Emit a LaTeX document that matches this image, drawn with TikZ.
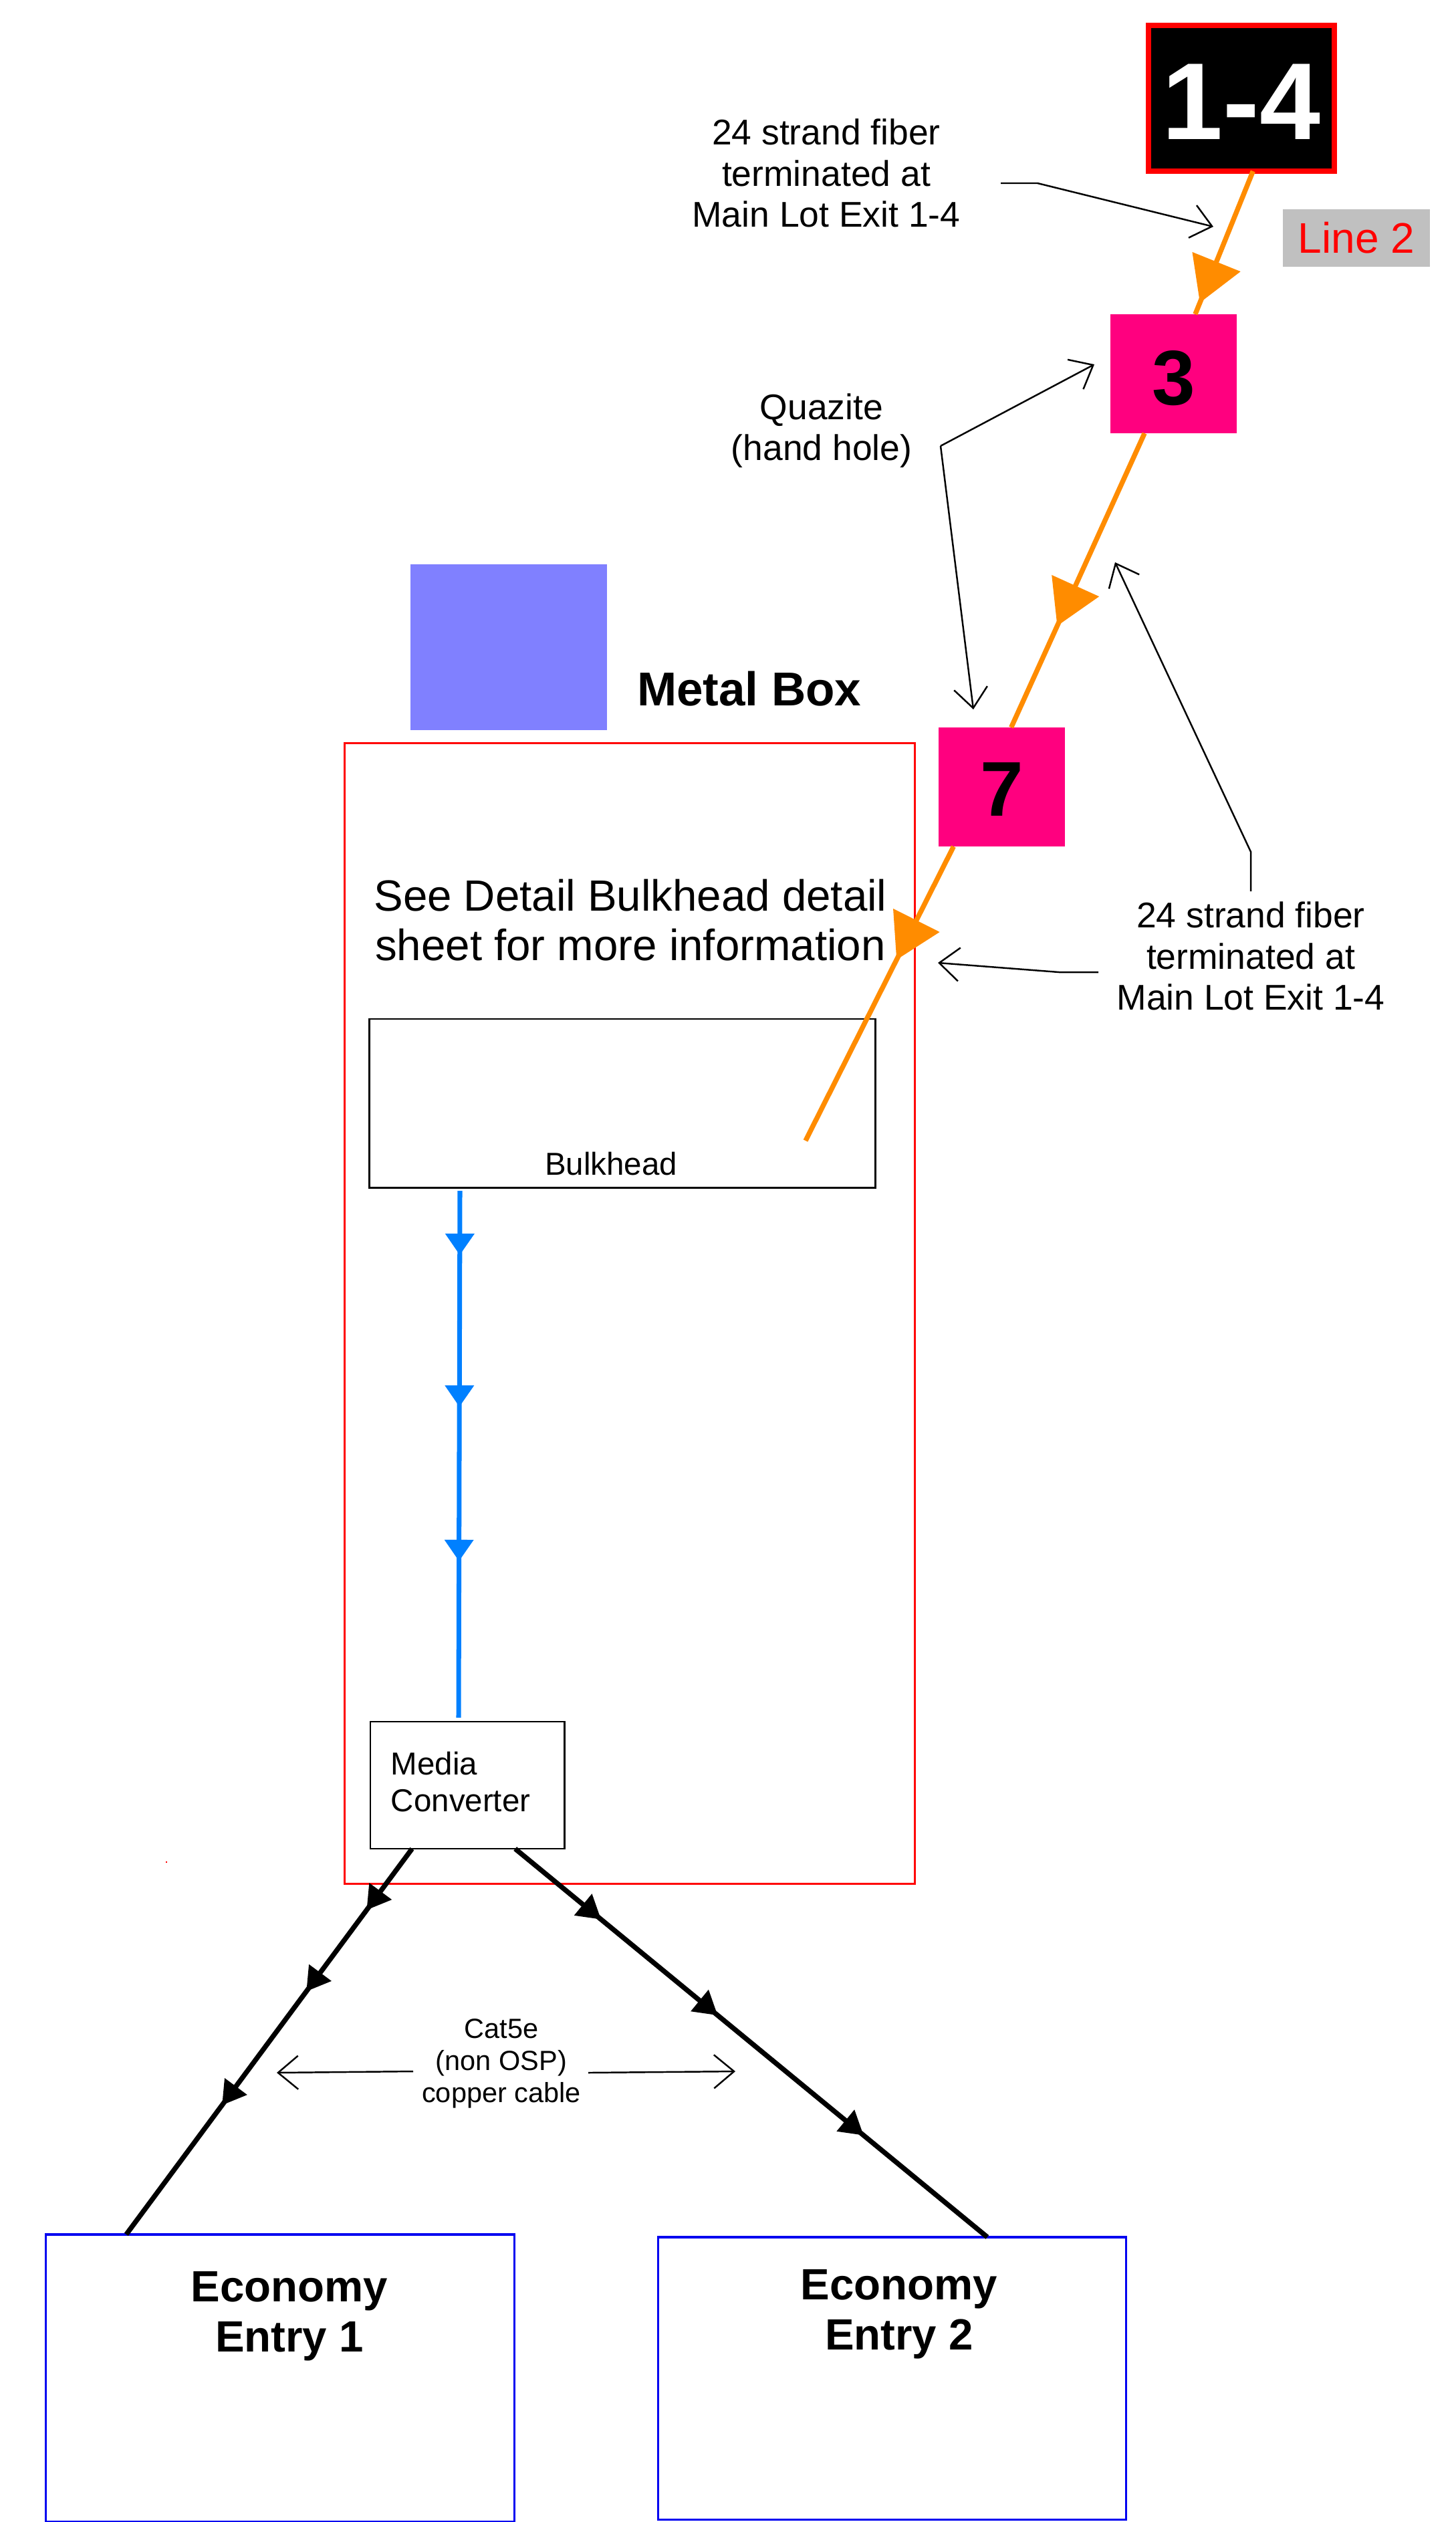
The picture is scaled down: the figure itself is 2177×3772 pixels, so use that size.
\documentclass[tikz,border=0pt]{standalone}
\usepackage{fontspec}
\setmainfont{Liberation Sans}
\usetikzlibrary{arrows.meta,decorations.markings}
\definecolor{fiberorange}{RGB}{255,140,0}
\definecolor{holepink}{RGB}{255,0,127}
\definecolor{patchblue}{RGB}{0,128,255}
\definecolor{metalblue}{RGB}{128,128,255}
\definecolor{tagback}{RGB}{192,192,192}
\definecolor{entryblue}{RGB}{0,0,240}
\begin{document}
\begin{tikzpicture}[x=0.01cm,y=-0.01cm,
  every node/.style={outer sep=0pt},
  notetext/.style={align=center,inner sep=0pt,font=\fontsize{15.2}{17.4}\selectfont},
  titletext/.style={align=center,inner sep=0pt,font=\bfseries\fontsize{18.6}{21.2}\selectfont},
  holebox/.style={fill=holepink,minimum width=1.89cm,minimum height=1.78cm,inner sep=0pt,text depth=0pt,font=\bfseries\fontsize{33}{36}\selectfont},
  entrybox/.style={draw=entryblue,line width=0.9pt,minimum width=7cm,inner sep=0pt},
  leader/.style={draw=black,line width=0.7pt,-{Straight Barb[length=0.3cm,width=0.5cm]}},
  fibertip/.style={postaction={decorate,decoration={markings,mark=at position #1 with {\arrow{Triangle[length=0.66cm,width=0.76cm]}}}}},
  patchtip/.style={postaction={decorate,decoration={markings,mark=at position #1 with {\arrow{Triangle[length=0.32cm,width=0.42cm]}}}}},
  coppertip/.style={postaction={decorate,decoration={markings,mark=at position #1 with {\arrow{Triangle[length=0.35cm,width=0.4cm]}}}}},
  fiber/.style={draw=fiberorange,line width=2.1pt},
  patch/.style={draw=patchblue,line width=2pt},
  copper/.style={draw=black,line width=2.1pt}]
\useasboundingbox (0,0) rectangle (2177,3772);
\node[draw=red,line width=0.9pt,minimum width=8.53cm,minimum height=17.05cm,inner sep=0pt] (metalbox) at (942,1964.5) {};
\node[fill=metalblue,minimum width=2.94cm,minimum height=2.48cm,inner sep=0pt] (metalsquare) at (761,968) {};
\node[anchor=west,inner sep=0pt,font=\bfseries\fontsize{20.2}{24}\selectfont] (metallabel) at (953,1030) {Metal Box};
\node[align=center,inner sep=0pt,font=\fontsize{18.6}{21}\selectfont] (seedetail) at (943,1376) {See Detail Bulkhead detail\\ sheet for more information};
\node[draw=black,line width=0.8pt,minimum width=7.56cm,minimum height=2.52cm,inner sep=0pt] (bulkhead) at (931,1650) {};
\node[inner sep=0pt,font=\fontsize{13.5}{16}\selectfont] (bulkheadlabel) at (914,1741) {Bulkhead};
\node[draw=black,line width=0.8pt,minimum width=2.9cm,minimum height=1.9cm,inner xsep=0.31cm,inner ysep=0pt,text width=2.28cm,align=left,font=\fontsize{13.5}{15.9}\selectfont] (media) at (699,2670) {Media\\ Converter\vspace{0.1cm}};
\node[draw=red,fill=black,line width=2.3pt,minimum width=2.78cm,minimum height=2.18cm,inner sep=0pt,text=white,text height=1.22cm,text depth=0pt,font=\bfseries\fontsize{46.5}{50}\selectfont] (exit) at (1857,147) {1-4};
\node[fill=tagback,minimum width=2.2cm,minimum height=0.86cm,inner sep=0pt,text=red,font=\fontsize{18.2}{20}\selectfont] (linetag) at (2029,356) {Line 2};
\node[holebox,text height=0.93cm] (holethree) at (1755.5,559) {3};
\node[holebox,text height=0.87cm] (holeseven) at (1498.5,1177) {7};
\node[entrybox,minimum height=4.29cm] (entryone) at (419,3556.5) {};
\node[entrybox,minimum height=4.22cm] (entrytwo) at (1334.5,3557) {};
\node[titletext] (entryonelabel) at (433,3464) {Economy\\ Entry 1};
\node[titletext] (entrytwolabel) at (1345,3461) {Economy\\ Entry 2};
\node[notetext] (fiberlabel) at (1236,259) {24 strand fiber\\ terminated at\hspace*{0.15cm}\\ Main Lot Exit 1-4};
\node[notetext] (quazite) at (1229,644) {Quazite\\ (hand hole)};
\node[notetext] (fiberlabeltwo) at (1871,1430) {24 strand fiber\\ terminated at\hspace*{0.15cm}\\ Main Lot Exit 1-4};
\node[align=center,inner sep=0pt,font=\fontsize{11.8}{13.6}\selectfont] (catlabel) at (750,3086) {Cat5e\\ (non OSP)\\ copper cable};
\node[fill=red,minimum size=0.02cm,inner sep=0pt] (reddot) at (249,2785) {};
\coordinate (fiberend) at (1205,1706);
\coordinate (patchtop) at (688,1781);
\coordinate (patchend) at (686,2569);
\coordinate (notea) at (1497,274);
\coordinate (noteb) at (1552,274);
\coordinate (notec) at (1815,339);
\coordinate (quazitebend) at (1407,667);
\coordinate (quazitea) at (1637,545);
\coordinate (quaziteb) at (1456,1061);
\coordinate (noted) at (1871,1333);
\coordinate (notee) at (1871,1274);
\coordinate (notef) at (1668,841);
\coordinate (noteg) at (1643,1454);
\coordinate (noteh) at (1584,1454);
\coordinate (notei) at (1403,1440);
\coordinate (cata) at (618,3098);
\coordinate (catb) at (414,3100);
\coordinate (catc) at (880,3100);
\coordinate (catd) at (1100,3098);
\draw[fiber,fibertip=.92] (exit.-81) -- (holethree.70.5);
\draw[fiber,fibertip=.655] (holethree.-116) -- (holeseven.81);
\draw[fiber,fibertip=.385] (holeseven.231.6) -- (fiberend);
\draw[patch,patchtip=.122,patchtip=.41,patchtip=.703] (patchtop) -- (patchend);
\draw[copper,coppertip=.159,coppertip=.37,coppertip=.665] (media.229) -- (entryone.137.4);
\draw[copper,coppertip=.182,coppertip=.429,coppertip=.738] (media.-53.6) -- (entrytwo.56.5);
\draw[leader] (notea) -- (noteb) -- (notec);
\draw[leader] (quazitebend) -- (quazitea);
\draw[leader] (quazitebend) -- (quaziteb);
\draw[leader] (noted) -- (notee) -- (notef);
\draw[leader] (noteg) -- (noteh) -- (notei);
\draw[leader] (cata) -- (catb);
\draw[leader] (catc) -- (catd);
\end{tikzpicture}
\end{document}
